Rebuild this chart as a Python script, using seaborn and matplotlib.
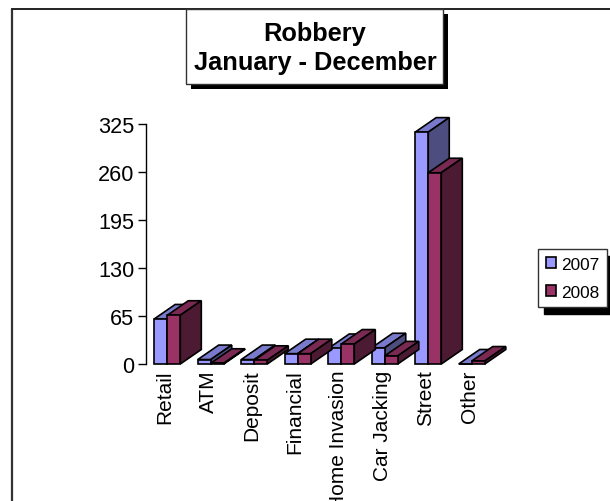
import matplotlib
matplotlib.use("Agg")
import matplotlib.pyplot as plt
from matplotlib.lines import Line2D
from matplotlib.patches import Polygon, Rectangle
from matplotlib.transforms import ScaledTranslation
import pandas as pd
import seaborn as sns

categories = ["Retail", "ATM", "Deposit", "Financial", "Home Invasion", "Car Jacking", "Street", "Other"]
values_2007 = [61, 6, 6, 14, 21, 22, 314, 0]
values_2008 = [66, 1, 5, 14, 27, 11, 259, 4]
y_ticks = [0, 65, 130, 195, 260, 325]

FRONT = {"2007": "#9999FF", "2008": "#993366"}
TOP = {"2007": "#7A7ACC", "2008": "#7A2952"}
SIDE = {"2007": "#4D4D80", "2008": "#4D1A33"}

W, H = 610, 502
sns.set_theme(style="white")
plt.rcParams["font.family"] = ["Liberation Sans", "DejaVu Sans"]

df = pd.DataFrame({
    "category": categories * 2,
    "value": values_2007 + values_2008,
    "year": ["2007"] * len(categories) + ["2008"] * len(categories),
})

fig = plt.figure(figsize=(W / 100, H / 100), dpi=100, facecolor="white")
ax = fig.add_axes([145.5 / W, (H - 365) / H, 348 / W, 240 / H])
ax.patch.set_visible(False)
sns.barplot(data=df, x="category", y="value", hue="year", palette=FRONT, width=0.6, gap=0,
            edgecolor="black", linewidth=1.2, saturation=1, ax=ax, legend=True)
ax.set_xlim(-0.5, len(categories) - 0.5)
ax.set_ylim(0, y_ticks[-1])

# Oblique depth of each bar, derived from the axes scales
dx = 21 / 348 * len(categories)
dy = 14.5 / 240 * y_ticks[-1]
for series, year in zip(ax.containers, ["2007", "2008"]):
    z_base = 2 if year == "2007" else 5
    for bar in series:
        x0, w, h = bar.get_x(), bar.get_width(), bar.get_height()
        x1 = x0 + w
        top = Polygon([(x0, h), (x0 + dx, h + dy), (x1 + dx, h + dy), (x1, h)], closed=True,
                      fc=TOP[year], ec="black", lw=1.2, zorder=z_base, clip_on=False)
        side = Polygon([(x1, 0), (x1 + dx, dy), (x1 + dx, h + dy), (x1, h)], closed=True,
                       fc=SIDE[year], ec="black", lw=1.2, zorder=z_base, clip_on=False)
        ax.add_patch(top)
        ax.add_patch(side)
        bar.set_zorder(z_base + 1)
        bar.set_clip_on(False)

ax.set_xlabel("")
ax.set_ylabel("")
ax.set_yticks(y_ticks)
ax.tick_params(axis="y", left=True, length=6, width=1, color="black", labelsize=15.6, pad=2, labelcolor="black")
ax.tick_params(axis="x", bottom=False, length=0, labelsize=15, rotation=90, pad=4, labelcolor="black")
shift = ScaledTranslation(-2.5 / 100, 0, fig.dpi_scale_trans)
for lab in ax.get_xticklabels():
    lab.set_ha("center")
    lab.set_va("top")
    lab.set_transform(lab.get_transform() + shift)
sns.despine(ax=ax, top=True, right=True, bottom=True)
ax.spines["left"].set_color("black")
ax.spines["left"].set_linewidth(1)

# Outer chart area edges
fig.add_artist(Line2D([12.5 / W, 12.5 / W], [0, 1 - 10 / H], color="#333333", lw=1.6))
fig.add_artist(Line2D([12 / W, 1], [1 - 10 / H, 1 - 10 / H], color="#222222", lw=1.4))

# Title box with a hard shadow
x0, y0, x1, y1 = 186, 10, 443, 85
fig.add_artist(Rectangle((x0 / W + 5 / W, 1 - (y1 + 5) / H), (x1 - x0) / W, (y1 - y0) / H,
                         fc="black", ec="black", lw=0, zorder=5))
fig.add_artist(Rectangle((x0 / W, 1 - y1 / H), (x1 - x0) / W, (y1 - y0) / H,
                         fc="white", ec="#333333", lw=1, zorder=6))
fig.text((x0 + x1 + 1) / 2 / W, 1 - 48.5 / H, "Robbery\nJanuary - December", ha="center", va="center",
         fontsize=18.3, fontweight="bold", color="black", linespacing=1.3, zorder=7)

# Legend
handles, labels = ax.get_legend_handles_labels()
leg = ax.legend(handles, labels, loc="upper left", bbox_to_anchor=(538 / W, 1 - 250 / H),
                bbox_transform=fig.transFigure, borderaxespad=0, fontsize=12.4, frameon=True,
                fancybox=False, framealpha=1, edgecolor="#333333", facecolor="white",
                handlelength=0.6, handleheight=0.6, handletextpad=0.3, labelspacing=0.75,
                borderpad=0.45, shadow={"color": "black", "alpha": 1, "ox": 4, "oy": -5, "shade": 1})
leg.get_frame().set_linewidth(1)
leg.set_zorder(10)
for t in leg.get_texts():
    t.set_color("black")

fig.savefig("out.png", dpi=100)
